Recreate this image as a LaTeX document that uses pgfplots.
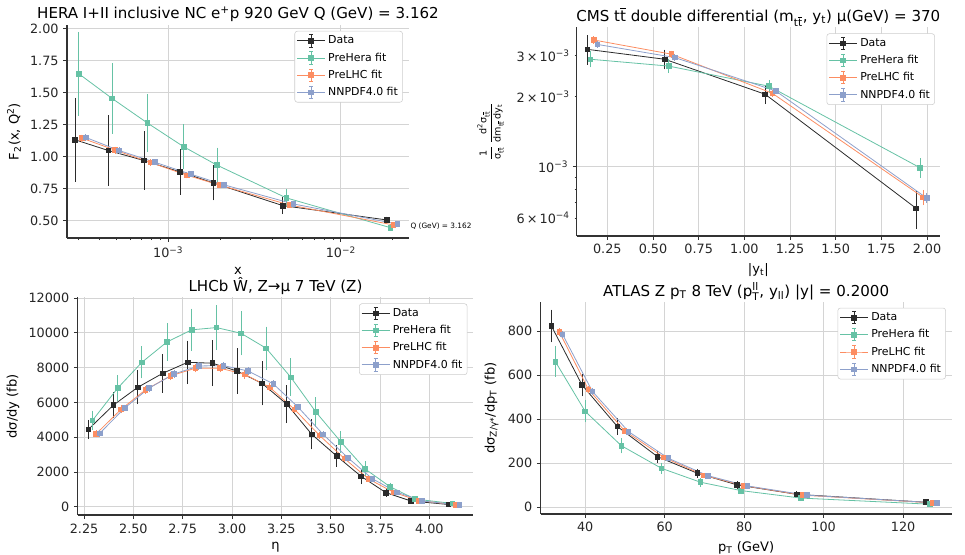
\documentclass[border=0pt]{standalone}
\usepackage{fontspec}
\setmainfont{DejaVu Sans}
\usepackage{amsmath}
\usepackage{pgfplots}
\pgfplotsset{compat=1.18}

\definecolor{dat}{HTML}{2B2B2B}
\definecolor{phera}{HTML}{66C2A5}
\definecolor{plhc}{HTML}{FC8D62}
\definecolor{nnpdf}{HTML}{8DA0CB}
\definecolor{gridgray}{HTML}{D4D4D4}

\newcommand{\ttb}{t$\overline{\text{t}}$}

\pgfplotsset{
  nnpanel/.style={
    scale only axis,
    axis lines=left,
    axis line style={-, draw=black!80, line width=0.9pt},
    tick style={draw=black!80, line width=0.7pt},
    tick align=outside,
    major tick length=2.8pt,
    minor tick length=1.6pt,
    xmajorgrids, ymajorgrids,
    grid style={draw=gridgray, line width=0.7pt},
    tick label style={font=\fontsize{9.6}{11}\selectfont, text=black!85},
    label style={font=\fontsize{9.8}{11}\selectfont},
    every axis title shift=0pt,
    title style={font=\fontsize{11.3}{13}\selectfont, at={(0.5,1)}, anchor=base, yshift=4.5pt},
    scaled ticks=false,
    /pgf/number format/assume math mode=true,
    /pgf/number format/set thousands separator={},
    error bars/y dir=both,
    error bars/y explicit,
    error bars/error bar style={line width=0.6pt},
    error bars/error mark options={line width=0.6pt, mark size=1.6pt},
    legend cell align=left,
    legend style={font=\fontsize{8.2}{9.5}\selectfont, draw=black!20,
      rounded corners=2pt, fill=white, inner sep=1.5pt, row sep=1.2pt,
      anchor=north east},
    legend image code/.code={
      \draw[mark repeat=2, mark phase=2, ##1] plot coordinates {(0pt,0pt) (10.5pt,0pt) (21pt,0pt)};
      \draw[##1, mark=none] (10.5pt,-4.6pt) -- (10.5pt,4.6pt);
      \draw[##1, mark=none] (9pt,-4.6pt) -- (12pt,-4.6pt) (9pt,4.6pt) -- (12pt,4.6pt);
    },
  },
  ser/.style={color=#1, mark=square*, mark size=1.75pt, line width=0.6pt},
}

\begin{document}
\begin{tikzpicture}
\path[use as bounding box] (0,0) rectangle (723.75pt,-416.25pt);

% HERA
\begin{axis}[nnpanel, name=p1,
  at={(50.25pt,-18.75pt)}, anchor=north west,
  width=256.5pt, height=159.75pt,
  xmode=log, xmin=2.59e-4, xmax=0.0248,
  ymin=0.367, ymax=2.03,
  xtick={1e-3,1e-2}, xticklabels={10\textsuperscript{−3}, 10\textsuperscript{−2}},
  minor xtick={3e-4,4e-4,5e-4,6e-4,7e-4,8e-4,9e-4,2e-3,3e-3,4e-3,5e-3,6e-3,7e-3,8e-3,9e-3,2e-2},
  ytick={0.5,0.75,1,1.25,1.5,1.75,2},
  yticklabel style={/pgf/number format/.cd, fixed, fixed zerofill, precision=2},
  title={HERA I+II inclusive NC e\textsuperscript{+}p 920 GeV Q (GeV) = 3.162},
  xlabel={x}, ylabel={F\textsubscript{2}(x, Q\textsuperscript{2})},
  legend style={at={(0.982,0.972)}},
]
\addplot[ser=dat] coordinates {(2.884e-4,1.134) +- (0,0.31) (4.498e-4,1.050) +- (0,0.26) (7.228e-4,0.972) +- (0,0.21) (1.172e-3,0.883) +- (0,0.16) (1.824e-3,0.797) +- (0,0.12) (4.603e-3,0.620) +- (0,0.05) (1.841e-2,0.508) +- (0,0.01)};
\addplot[ser=phera] coordinates {(3.027e-4,1.650) +- (0,0.31) (4.721e-4,1.457) +- (0,0.26) (7.586e-4,1.264) +- (0,0.21) (1.230e-3,1.079) +- (0,0.16) (1.914e-3,0.936) +- (0,0.12) (4.831e-3,0.680) +- (0,0.05) (1.932e-2,0.448) +- (0,0.01)};
\addplot[ser=plhc] coordinates {(3.155e-4,1.147) +- (0,0.01) (4.920e-4,1.053) +- (0,0.01) (7.907e-4,0.956) +- (0,0.008) (1.282e-3,0.857) +- (0,0.008) (1.995e-3,0.779) +- (0,0.006) (5.035e-3,0.625) +- (0,0.005) (2.014e-2,0.469) +- (0,0.005)};
\addplot[ser=nnpdf] coordinates {(3.327e-4,1.152) +- (0,0.008) (5.188e-4,1.050) +- (0,0.008) (8.337e-4,0.959) +- (0,0.006) (1.352e-3,0.865) +- (0,0.006) (2.104e-3,0.782) +- (0,0.005) (5.309e-3,0.633) +- (0,0.005) (2.123e-2,0.476) +- (0,0.005)};
\legend{Data, PreHera fit, PreLHC fit, NNPDF4.0 fit}
\end{axis}
\node[anchor=west, font=\fontsize{5.5}{6}\selectfont, inner sep=1pt] at ([yshift=9pt]p1.south east) {Q (GeV) = 3.162};

% CMS ttbar
\begin{axis}[nnpanel,
  at={(432.5pt,-20.5pt)}, anchor=north west,
  width=272.5pt, height=156.5pt,
  ymode=log, xmin=0.082, xmax=2.071,
  ymin=5.03e-4, ymax=3.98e-3,
  xtick={0.25,0.5,...,2.0},
  xticklabel style={/pgf/number format/.cd, fixed, fixed zerofill, precision=2},
  ytick={1e-3}, yticklabels={10\textsuperscript{−3}},
  extra y ticks={6e-4,2e-3,3e-3},
  extra y tick labels={6\,×\,10\textsuperscript{−4}, 2\,×\,10\textsuperscript{−3}, 3\,×\,10\textsuperscript{−3}},
  extra y tick style={grid=none, major tick length=1.6pt},
  minor ytick={7e-4,8e-4,9e-4},
  title={CMS \ttb{} double differential (m\textsubscript{\ttb}, y\textsubscript{t}) μ(GeV) = 370},
  xlabel={|y\textsubscript{t}|},
  ylabel={\fontsize{7.2}{8}\selectfont$\displaystyle\frac{\text{1}}{\text{σ\textsubscript{\ttb}}}\,\frac{\text{d\textsuperscript{2}σ\textsubscript{\ttb}}}{\text{dm\textsubscript{\ttb}\,dy\textsubscript{t}}}$},
  legend style={at={(0.986,0.971)}},
]
\addplot[ser=dat] coordinates {(0.140,3.20e-3) +- (0,0.40e-3) (0.564,2.90e-3) +- (0,0.22e-3) (1.114,2.05e-3) +- (0,0.15e-3) (1.940,6.62e-4) +- (0,1.1e-4)};
\addplot[ser=phera] coordinates {(0.158,2.90e-3) +- (0,0.17e-3) (0.586,2.71e-3) +- (0,0.13e-3) (1.135,2.22e-3) +- (0,0.09e-3) (1.961,9.9e-4) +- (0,0.75e-4)};
\addplot[ser=plhc] coordinates {(0.176,3.51e-3) +- (0,0.06e-3) (0.601,3.05e-3) +- (0,0.04e-3) (1.153,2.07e-3) +- (0,0.03e-3) (1.979,7.38e-4) +- (0,0.4e-4)};
\addplot[ser=nnpdf] coordinates {(0.195,3.36e-3) +- (0,0.04e-3) (0.619,2.95e-3) +- (0,0.03e-3) (1.171,2.12e-3) +- (0,0.02e-3) (1.998,7.33e-4) +- (0,0.2e-4)};
\legend{Data, PreHera fit, PreLHC fit, NNPDF4.0 fit}
\end{axis}

% LHCb
\begin{axis}[nnpanel,
  at={(58.3pt,-223pt)}, anchor=north west,
  width=296.7pt, height=163.3pt,
  xmin=2.218, xmax=4.223, ymin=-480, ymax=12050,
  xtick={2.25,2.5,...,4.0},
  xticklabel style={/pgf/number format/.cd, fixed, fixed zerofill, precision=2},
  ytick={0,2000,...,12000},
  title={LHCb Ŵ, Z→μ 7 TeV (Z)},
  xlabel={η}, ylabel={dσ/dy (fb)},
  legend style={at={(0.985,0.972)}},
]
\addplot[ser=dat] coordinates {(2.272,4450) +- (0,430) (2.399,5850) +- (0,620) (2.522,6870) +- (0,850) (2.649,7680) +- (0,1000) (2.775,8310) +- (0,1130) (2.900,8260) +- (0,1190) (3.025,7810) +- (0,1200) (3.152,7100) +- (0,1150) (3.277,5910) +- (0,970) (3.404,4170) +- (0,740) (3.530,2920) +- (0,500) (3.654,1750) +- (0,320) (3.780,810) +- (0,120) (3.907,330) +- (0,50) (4.096,130) +- (0,30)};
\addplot[ser=phera] coordinates {(2.293,4970) +- (0,440) (2.420,6820) +- (0,620) (2.543,8310) +- (0,800) (2.670,9480) +- (0,960) (2.796,10180) +- (0,1100) (2.921,10310) +- (0,1170) (3.046,9980) +- (0,1150) (3.173,9120) +- (0,1120) (3.298,7450) +- (0,960) (3.425,5450) +- (0,730) (3.551,3740) +- (0,500) (3.675,2170) +- (0,320) (3.801,1150) +- (0,120) (3.928,440) +- (0,50) (4.117,190) +- (0,30)};
\addplot[ser=plhc] coordinates {(2.311,4190) +- (0,80) (2.438,5610) +- (0,100) (2.561,6720) +- (0,110) (2.688,7530) +- (0,120) (2.814,7970) +- (0,120) (2.939,7970) +- (0,120) (3.064,7620) +- (0,120) (3.191,6870) +- (0,110) (3.316,5610) +- (0,100) (3.443,4110) +- (0,80) (3.569,2780) +- (0,60) (3.693,1590) +- (0,40) (3.819,830) +- (0,25) (3.946,350) +- (0,15) (4.135,115) +- (0,10)};
\addplot[ser=nnpdf] coordinates {(2.329,4220) +- (0,60) (2.456,5680) +- (0,70) (2.579,6820) +- (0,80) (2.706,7640) +- (0,90) (2.832,8100) +- (0,90) (2.957,8120) +- (0,90) (3.082,7810) +- (0,90) (3.209,7070) +- (0,80) (3.334,5740) +- (0,70) (3.461,4170) +- (0,60) (3.587,2820) +- (0,45) (3.711,1610) +- (0,30) (3.837,830) +- (0,20) (3.964,330) +- (0,10) (4.153,100) +- (0,8)};
\legend{Data, PreHera fit, PreLHC fit, NNPDF4.0 fit}
\end{axis}

% ATLAS Z pT
\begin{axis}[nnpanel,
  at={(405.5pt,-226.7pt)}, anchor=north west,
  width=308.25pt, height=158.8pt,
  xmin=28.8, xmax=132.2, ymin=-30.5, ymax=931.8,
  xtick={40,60,...,120}, ytick={0,200,...,800},
  title={ATLAS Z p\textsubscript{T} 8 TeV ($\text{p}^{\text{ll}}_{\text{T}}$, y\textsubscript{ll}) |y| = 0.2000},
  xlabel={p\textsubscript{T} (GeV)},
  ylabel={dσ\textsubscript{Z/γ*}/dp\textsubscript{T} (fb)},
  legend style={at={(0.986,0.974)}},
]
\addplot[ser=dat] coordinates {(31.5,824) +- (0,65) (39.2,556) +- (0,42) (48.1,367) +- (0,27) (58.2,230) +- (0,18) (68.2,155) +- (0,10) (78.2,102) +- (0,8) (93.2,59) +- (0,5) (125.7,23) +- (0,3)};
\addplot[ser=phera] coordinates {(32.5,662) +- (0,60) (40.0,436) +- (0,40) (49.1,280) +- (0,25) (59.2,177) +- (0,16) (69.0,114) +- (0,10) (79.2,76) +- (0,6) (94.2,42) +- (0,4) (126.7,14) +- (0,2)};
\addplot[ser=plhc] coordinates {(33.5,797) +- (0,8) (40.8,536) +- (0,6) (49.9,348) +- (0,4) (59.8,227) +- (0,3) (69.9,145) +- (0,2) (80.0,98) +- (0,2) (94.8,55) +- (0,1) (127.5,20) +- (0,1)};
\addplot[ser=nnpdf] coordinates {(34.3,786) +- (0,7) (41.8,527) +- (0,6) (50.9,344) +- (0,4) (60.9,223) +- (0,3) (70.8,144) +- (0,2) (80.8,97) +- (0,2) (95.8,55) +- (0,1) (128.4,20) +- (0,1)};
\legend{Data, PreHera fit, PreLHC fit, NNPDF4.0 fit}
\end{axis}
\end{tikzpicture}
\end{document}
